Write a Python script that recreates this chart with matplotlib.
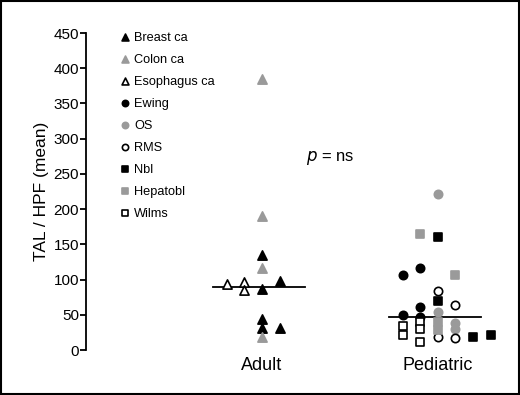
import matplotlib
matplotlib.use("Agg")
import matplotlib.pyplot as plt
from matplotlib.patches import Rectangle

plt.rcParams['font.family'] = ['Liberation Sans', 'DejaVu Sans']

# --- data, slot = dodge column within group ---
groups = ["Adult", "Pediatric"]
medians = [90, 47]

breast_vals = [135, 98, 86, 44, 31, 31]
breast_slot = [0, 1, 0, 0, 0, 1]
colon_vals = [385, 190, 116, 19]
colon_slot = [0, 0, 0, 0]
esoph_vals = [93, 97, 85]
esoph_slot = [-2, -1, -1]

ewing_vals = [106, 116, 61, 50, 47]
ewing_slot = [-2, -1, -1, -2, -1]
os_vals = [221, 54, 38, 30]
os_slot = [0, 0, 1, 1]
rms_vals = [84, 64, 18, 17]
rms_slot = [0, 1, 0, 1]
nbl_vals = [160, 70, 18, 22]
nbl_slot = [0, 0, 2, 3]
hepato_vals = [165, 106, 40, 28]
hepato_slot = [-1, 1, 0, 0]
wilms_vals = [40, 34, 30, 22, 12]
wilms_slot = [-1, -2, -1, -2, -1]

GRAY = "#9a9a9a"
series = [
    ("Breast ca", 0, breast_vals, breast_slot, "^", "black", "black"),
    ("Colon ca", 0, colon_vals, colon_slot, "^", GRAY, GRAY),
    ("Esophagus ca", 0, esoph_vals, esoph_slot, "^", "white", "black"),
    ("Ewing", 1, ewing_vals, ewing_slot, "o", "black", "black"),
    ("OS", 1, os_vals, os_slot, "o", GRAY, GRAY),
    ("RMS", 1, rms_vals, rms_slot, "o", "white", "black"),
    ("Nbl", 1, nbl_vals, nbl_slot, "s", "black", "black"),
    ("Hepatobl", 1, hepato_vals, hepato_slot, "s", GRAY, GRAY),
    ("Wilms", 1, wilms_vals, wilms_slot, "s", "white", "black"),
]
sizes = {"^": 44, "o": 36, "s": 30}
step = 0.1

fig = plt.figure(figsize=(5.2, 3.95), dpi=100)
ax = fig.add_axes([0.1654, 0.1139, 0.812, 0.8025])

for name, g, vals, slots, mk, fc, ec in series:
    xs = [g + 1 + s * step for s in slots]
    ax.scatter(xs, vals, marker=mk, s=sizes[mk], facecolor=fc, edgecolor=ec,
               linewidths=1.2, label=name, zorder=3)

for i, m in enumerate(medians):
    ax.plot([i + 1 - 0.28, i + 1 + 0.245], [m, m], color="black", lw=1.3, zorder=2)

ax.text(1.39, 272, "$p$ = ns", fontsize=12, ha="center", va="center")

ax.set_xlim(0, 2.4)
ax.set_ylim(0, 450)
ax.set_yticks(range(0, 451, 50))
ax.set_xticks([1, 2])
ax.set_xticklabels(groups)
ax.tick_params(axis="x", length=0, labelsize=13, pad=5)
ax.tick_params(axis="y", length=4, width=1.3, labelsize=11, pad=1)
ax.set_ylabel("TAL / HPF (mean)", fontsize=12.5, labelpad=3)
for side in ["top", "right", "bottom"]:
    ax.spines[side].set_visible(False)
ax.spines["left"].set_linewidth(1.3)

ax.legend(loc="upper left", bbox_to_anchor=(0.07, 1.02), frameon=False,
          fontsize=9.2, handlelength=0.6, handletextpad=0.45, labelspacing=0.78,
          borderaxespad=0, markerscale=0.75)

fig.patches.append(Rectangle((0.002, 0.002), 0.996, 0.996, transform=fig.transFigure,
                             fill=False, edgecolor="black", lw=1.5))

fig.savefig("out.png", dpi=100)
